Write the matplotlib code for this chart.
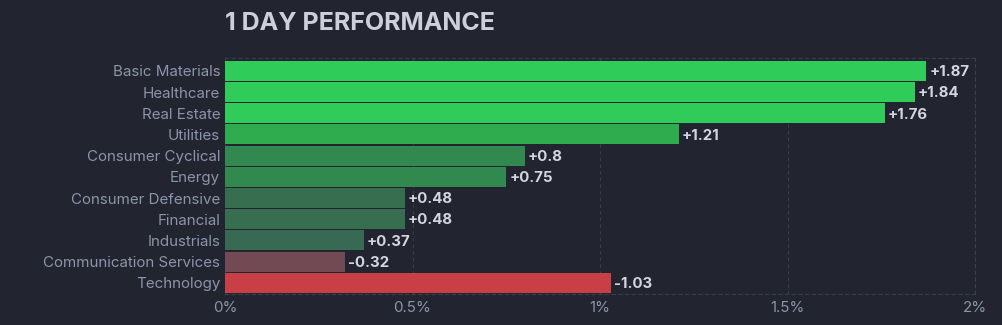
import matplotlib
matplotlib.use("Agg")
import matplotlib.pyplot as plt

sectors = ["Basic Materials", "Healthcare", "Real Estate", "Utilities",
           "Consumer Cyclical", "Energy", "Consumer Defensive", "Financial",
           "Industrials", "Communication Services", "Technology"]
changes = [1.87, 1.84, 1.76, 1.21, 0.8, 0.75, 0.48, 0.48, 0.37, -0.32, -1.03]
tick_values = [0, 0.5, 1, 1.5, 2]
tick_labels = ["0%", "0.5%", "1%", "1.5%", "2%"]
title = "1 DAY PERFORMANCE"

bar_colors = ["#30cc5a", "#30cc5a", "#30cc5a", "#2fad4e", "#31894f", "#31894f",
              "#376e50", "#376e50", "#386a53", "#714a53", "#c84046"]

BG = "#22252f"
GRID = "#3b3f4d"
LABEL = "#8d93aa"
VALUE = "#d4d6df"

plt.rcParams['font.family'] = ['Inter', 'DejaVu Sans']

fig = plt.figure(figsize=(10.02, 3.25), dpi=100, facecolor=BG)
ax = fig.add_axes([225/1002, 1 - 294/325, 750/1002, (294 - 58)/325])
ax.set_facecolor(BG)

ypos = list(range(len(sectors)))
lengths = [abs(v) for v in changes]
bars = ax.barh(ypos, lengths, height=0.945, color=bar_colors, zorder=3)

for y, v, L in zip(ypos, changes, lengths):
    ax.text(L + 0.008, y + 0.06, f"{v:+g}", va="center", ha="left", color=VALUE,
            fontsize=10.8, fontweight="bold", zorder=4)

ax.set_xlim(0, 2)
ax.set_ylim(len(sectors) - 1 + 0.53, -0.61)
ax.set_yticks(ypos)
ax.set_yticklabels(sectors, color=LABEL, fontsize=10.9)
ax.set_xticks(tick_values)
ax.set_xticklabels(tick_labels, color=LABEL, fontsize=10.9)
ax.tick_params(axis="both", length=0)
ax.tick_params(axis="y", pad=3.5)
ax.tick_params(axis="x", pad=5)

ax.grid(axis="x", color=GRID, linestyle=(0, (3, 3)), linewidth=0.8, zorder=0)
for side in ["top", "right", "bottom"]:
    ax.spines[side].set_color(GRID)
    ax.spines[side].set_linestyle((0, (3, 3)))
    ax.spines[side].set_linewidth(0.8)
ax.spines["left"].set_visible(False)

fig.text(225/1002, 1 - 23.5/325, title, color="#cdd0db", fontsize=18,
         fontweight="bold", va="center", ha="left")

fig.savefig("out.png", dpi=100, facecolor=BG)
